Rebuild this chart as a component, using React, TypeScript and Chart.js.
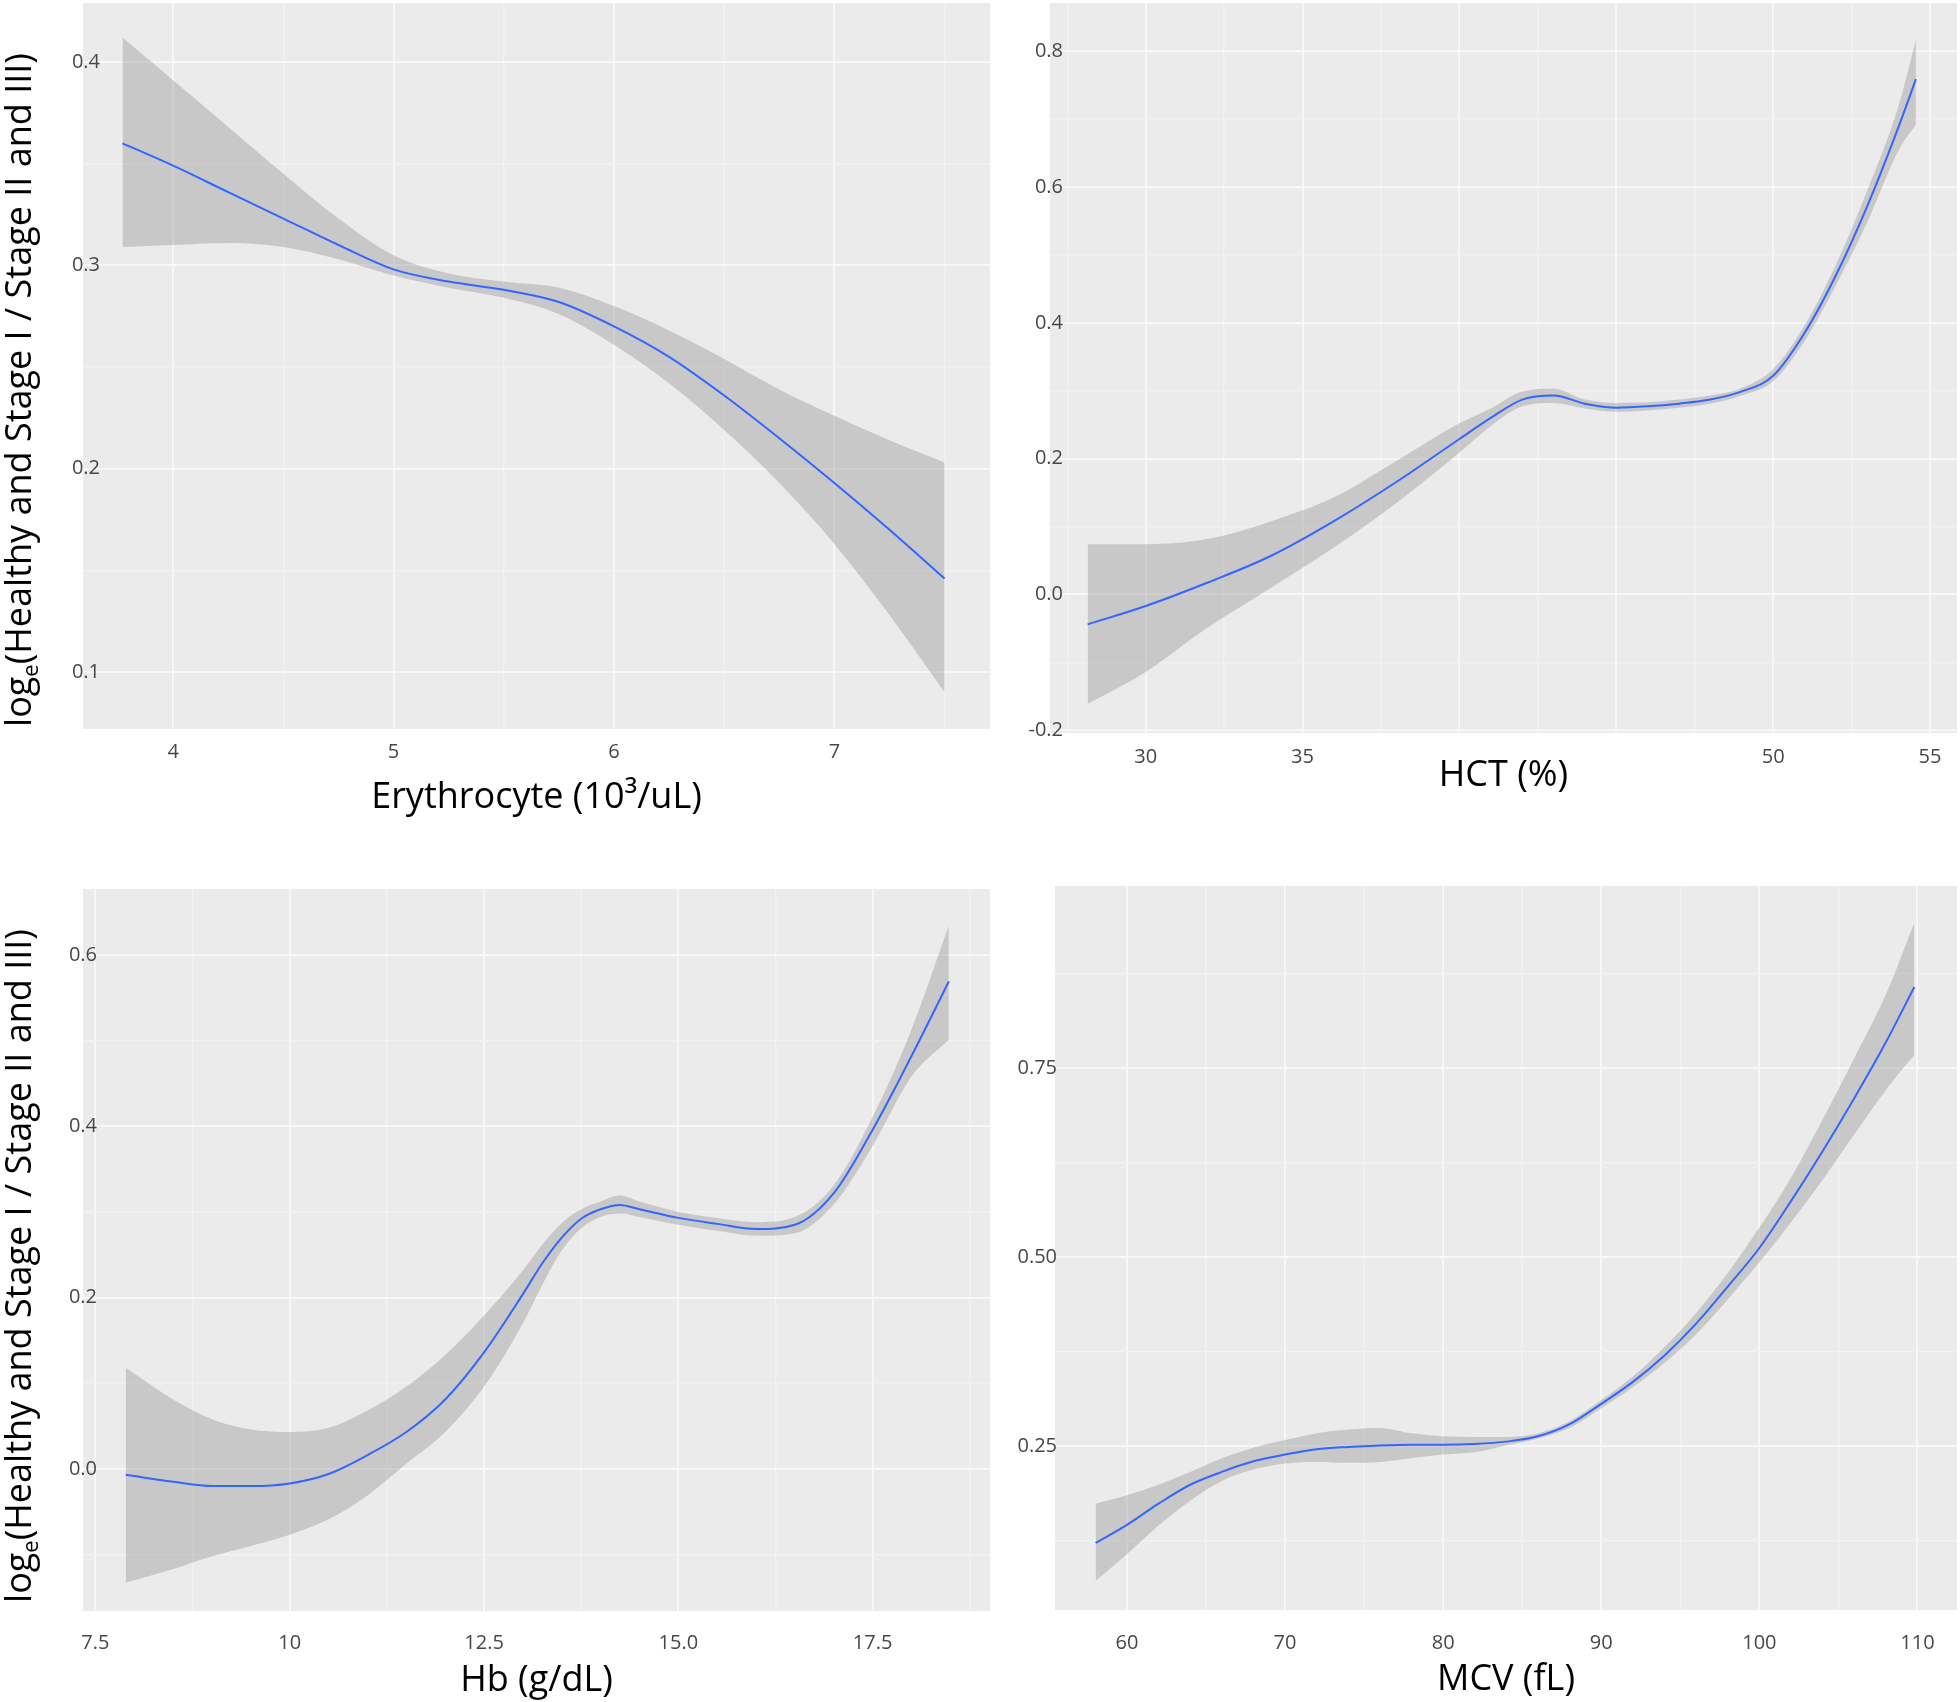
import React, { useEffect, useRef } from 'react';
import { Chart, registerables } from 'chart.js';

Chart.register(...registerables);

// ---------------- Data: Erythrocyte ----------------
const eryX = [3.77, 4.0, 4.25, 4.5, 4.75, 5.0, 5.25, 5.5, 5.75, 6.0, 6.25, 6.5, 6.75, 7.0, 7.25, 7.5];
const eryFit = [0.360, 0.349, 0.336, 0.323, 0.310, 0.298, 0.292, 0.288, 0.282, 0.270, 0.255, 0.236, 0.215, 0.193, 0.170, 0.146];
const eryUpper = [0.412, 0.391, 0.368, 0.345, 0.323, 0.305, 0.296, 0.292, 0.289, 0.280, 0.268, 0.254, 0.239, 0.226, 0.214, 0.203];
const eryLower = [0.309, 0.310, 0.311, 0.309, 0.303, 0.295, 0.289, 0.284, 0.276, 0.261, 0.242, 0.219, 0.193, 0.163, 0.128, 0.090];
const eryXMajor = [4, 5, 6, 7];
const eryXMinor = [4.5, 5.5, 6.5, 7.5];
const eryXLabels = ['4', '5', '6', '7'];
const eryYMajor = [0.1, 0.2, 0.3, 0.4];
const eryYMinor = [0.15, 0.25, 0.35];
const eryYLabels = ['0.1', '0.2', '0.3', '0.4'];

// ---------------- Data: HCT ----------------
const hctX = [28.15, 30, 32, 34, 36, 38, 40, 41, 42, 43, 44, 45, 46, 47, 48, 49, 50, 51, 52, 53, 54, 54.55];
const hctFit = [-0.044, -0.017, 0.018, 0.057, 0.108, 0.166, 0.229, 0.260, 0.287, 0.293, 0.281, 0.275, 0.277, 0.281, 0.287, 0.299, 0.322, 0.385, 0.470, 0.572, 0.689, 0.759];
const hctUpper = [0.074, 0.074, 0.082, 0.108, 0.143, 0.197, 0.252, 0.274, 0.299, 0.303, 0.287, 0.282, 0.283, 0.287, 0.293, 0.304, 0.332, 0.396, 0.486, 0.595, 0.720, 0.817];
const hctLower = [-0.161, -0.114, -0.048, 0.010, 0.069, 0.135, 0.209, 0.248, 0.277, 0.282, 0.274, 0.269, 0.271, 0.275, 0.281, 0.293, 0.314, 0.373, 0.455, 0.548, 0.654, 0.692];
const hctXMajor = [30, 35, 40, 45, 50, 55];
const hctXMinor = [27.5, 32.5, 37.5, 42.5, 47.5, 52.5];
const hctXLabels = ['30', '35', '', '', '50', '55'];
const hctYMajor = [-0.2, 0.0, 0.2, 0.4, 0.6, 0.8];
const hctYMinor = [-0.1, 0.1, 0.3, 0.5, 0.7];
const hctYLabels = ['-0.2', '0.0', '0.2', '0.4', '0.6', '0.8'];

// ---------------- Data: Hb ----------------
const hbX = [7.89, 8.5, 9, 9.5, 10, 10.5, 11, 11.5, 12, 12.5, 13, 13.25, 13.5, 13.75, 14, 14.25, 14.5, 15, 15.5, 16, 16.5, 17, 17.5, 18, 18.48];
const hbFit = [-0.007, -0.015, -0.020, -0.020, -0.017, -0.006, 0.016, 0.043, 0.081, 0.136, 0.204, 0.240, 0.270, 0.292, 0.303, 0.308, 0.303, 0.293, 0.286, 0.280, 0.285, 0.322, 0.396, 0.482, 0.569];
const hbUpper = [0.118, 0.081, 0.058, 0.046, 0.043, 0.048, 0.068, 0.096, 0.133, 0.179, 0.232, 0.262, 0.287, 0.303, 0.312, 0.319, 0.312, 0.300, 0.293, 0.288, 0.294, 0.331, 0.411, 0.513, 0.634];
const hbLower = [-0.133, -0.117, -0.102, -0.090, -0.077, -0.059, -0.031, 0.006, 0.043, 0.096, 0.170, 0.215, 0.255, 0.281, 0.294, 0.298, 0.294, 0.285, 0.278, 0.272, 0.275, 0.309, 0.377, 0.458, 0.501];
const hbXMajor = [7.5, 10, 12.5, 15, 17.5];
const hbXMinor = [8.75, 11.25, 13.75, 16.25, 18.75];
const hbXLabels = ['7.5', '10', '12.5', '15.0', '17.5'];
const hbYMajor = [0.0, 0.2, 0.4, 0.6];
const hbYMinor = [-0.1, 0.1, 0.3, 0.5];
const hbYLabels = ['0.0', '0.2', '0.4', '0.6'];

// ---------------- Data: MCV ----------------
const mcvX = [58.02, 60, 62, 64, 66, 68, 70, 72, 74, 76, 78, 80, 82, 84, 86, 88, 90, 92, 94, 96, 98, 100, 102, 104, 106, 108, 109.8];
const mcvFit = [0.122, 0.146, 0.174, 0.199, 0.216, 0.230, 0.239, 0.246, 0.249, 0.251, 0.252, 0.252, 0.253, 0.256, 0.263, 0.279, 0.306, 0.335, 0.370, 0.412, 0.461, 0.512, 0.574, 0.640, 0.710, 0.784, 0.857];
const mcvUpper = [0.174, 0.185, 0.199, 0.216, 0.234, 0.248, 0.258, 0.267, 0.272, 0.274, 0.267, 0.263, 0.262, 0.262, 0.267, 0.283, 0.311, 0.342, 0.381, 0.426, 0.479, 0.539, 0.605, 0.682, 0.763, 0.847, 0.942];
const mcvLower = [0.072, 0.107, 0.145, 0.178, 0.204, 0.219, 0.227, 0.229, 0.228, 0.229, 0.234, 0.239, 0.242, 0.251, 0.260, 0.274, 0.300, 0.328, 0.360, 0.398, 0.444, 0.493, 0.546, 0.602, 0.662, 0.721, 0.767];
const mcvXMajor = [60, 70, 80, 90, 100, 110];
const mcvXMinor = [65, 75, 85, 95, 105];
const mcvXLabels = ['60', '70', '80', '90', '100', '110'];
const mcvYMajor = [0.25, 0.5, 0.75];
const mcvYMinor = [0.125, 0.375, 0.625, 0.875];
const mcvYLabels = ['0.25', '0.50', '0.75'];

const Y_TITLE_MAIN = '(Healthy and Stage I / Stage II and III)';

// ---------------- Layout / style ----------------
const FONT_FAMILY = '"Open Sans", sans-serif';
const TICK_FONT = { family: FONT_FAMILY, size: 20 };
const TITLE_FONT = { family: FONT_FAMILY, size: 36 };
const TICK_COLOR = '#474747';
const PANEL_BG = '#EBEBEB';
const GRID_MAJOR = '#F7F7F7';
const GRID_MINOR = '#F2F2F2';
const LINE_COLOR = '#3366FF';
const RIBBON = 'rgba(153,153,153,0.42)';

type PanelCfg = {
  key: string;
  left: number; top: number; w: number; h: number;
  padTop: number; padRight: number; yAxisW: number; xAxisH: number;
  xTickPad: number; yLabelInset: number; xTitlePad: number;
  xMin: number; xMax: number; yMin: number; yMax: number;
  xs: number[]; fit: number[]; upper: number[]; lower: number[];
  xMajor: number[]; xMinor: number[]; xLabels: string[];
  yMajor: number[]; yMinor: number[]; yLabels: string[];
  xTitle: string;
  yTitle: null | { cx: number; cy: number };
};

const panels: PanelCfg[] = [
  {
    key: 'ery', left: 0, top: 0, w: 1000, h: 820,
    padTop: 3, padRight: 10, yAxisW: 83, xAxisH: 91,
    xTickPad: 11, yLabelInset: 17, xTitlePad: 1,
    xMin: 3.591, xMax: 7.706, yMin: 0.072, yMax: 0.429,
    xs: eryX, fit: eryFit, upper: eryUpper, lower: eryLower,
    xMajor: eryXMajor, xMinor: eryXMinor, xLabels: eryXLabels,
    yMajor: eryYMajor, yMinor: eryYMinor, yLabels: eryYLabels,
    xTitle: 'Erythrocyte (10³/uL)',
    yTitle: { cx: 21, cy: 390 },
  },
  {
    key: 'hct', left: 1000, top: 0, w: 960, h: 820,
    padTop: 3, padRight: 3, yAxisW: 50, xAxisH: 87,
    xTickPad: 12, yLabelInset: 13, xTitlePad: 23,
    xMin: 26.95, xMax: 55.86, yMin: -0.204, yMax: 0.871,
    xs: hctX, fit: hctFit, upper: hctUpper, lower: hctLower,
    xMajor: hctXMajor, xMinor: hctXMinor, xLabels: hctXLabels,
    yMajor: hctYMajor, yMinor: hctYMinor, yLabels: hctYLabels,
    xTitle: 'HCT (%)',
    yTitle: null,
  },
  {
    key: 'hb', left: 0, top: 860, w: 1000, h: 842,
    padTop: 29, padRight: 10, yAxisW: 83, xAxisH: 91,
    xTickPad: 20, yLabelInset: 14, xTitlePad: 0,
    xMin: 7.34, xMax: 19.01, yMin: -0.166, yMax: 0.677,
    xs: hbX, fit: hbFit, upper: hbUpper, lower: hbLower,
    xMajor: hbXMajor, xMinor: hbXMinor, xLabels: hbXLabels,
    yMajor: hbYMajor, yMinor: hbYMinor, yLabels: hbYLabels,
    xTitle: 'Hb (g/dL)',
    yTitle: { cx: 21, cy: 406 },
  },
  {
    key: 'mcv', left: 1000, top: 860, w: 960, h: 842,
    padTop: 26, padRight: 3, yAxisW: 55, xAxisH: 92,
    xTickPad: 21, yLabelInset: 2, xTitlePad: 1,
    xMin: 55.45, xMax: 112.5, yMin: 0.0334, yMax: 0.9906,
    xs: mcvX, fit: mcvFit, upper: mcvUpper, lower: mcvLower,
    xMajor: mcvXMajor, xMinor: mcvXMinor, xLabels: mcvXLabels,
    yMajor: mcvYMajor, yMinor: mcvYMinor, yLabels: mcvYLabels,
    xTitle: 'MCV (fL)',
    yTitle: null,
  },
];

const bgPlugin = {
  id: 'panelBg',
  beforeDraw(chart: any) {
    const { ctx, chartArea } = chart;
    ctx.save();
    ctx.fillStyle = PANEL_BG;
    ctx.fillRect(chartArea.left, chartArea.top, chartArea.right - chartArea.left, chartArea.bottom - chartArea.top);
    ctx.restore();
  },
};

// y tick labels drawn from the y scale (they overlap the panel edge as in the source figure)
function makeYLabelPlugin(cfg: PanelCfg) {
  return {
    id: 'yLabels',
    afterDraw(chart: any) {
      const ctx = chart.ctx as CanvasRenderingContext2D;
      const yScale = chart.scales.y;
      const x = chart.chartArea.left + cfg.yLabelInset;
      ctx.save();
      ctx.font = `${TICK_FONT.size}px ${FONT_FAMILY}`;
      ctx.fillStyle = TICK_COLOR;
      ctx.textAlign = 'right';
      ctx.textBaseline = 'middle';
      cfg.yMajor.forEach((v, i) => {
        ctx.fillText(cfg.yLabels[i], x, yScale.getPixelForValue(v));
      });
      ctx.restore();
    },
  };
}

function makeYTitlePlugin(pos: { cx: number; cy: number } | null) {
  return {
    id: 'yTitleSub',
    afterDraw(chart: any) {
      if (!pos) return;
      const ctx = chart.ctx as CanvasRenderingContext2D;
      const mainFont = `${TITLE_FONT.size}px ${FONT_FAMILY}`;
      const subFont = `${Math.round(TITLE_FONT.size * 0.62)}px ${FONT_FAMILY}`;
      ctx.save();
      ctx.translate(pos.cx, pos.cy);
      ctx.rotate(-Math.PI / 2);
      ctx.fillStyle = '#000';
      ctx.textBaseline = 'middle';
      ctx.textAlign = 'left';
      ctx.font = mainFont;
      const wLog = ctx.measureText('log').width;
      const wMain = ctx.measureText(Y_TITLE_MAIN).width;
      ctx.font = subFont;
      const wSub = ctx.measureText('e').width;
      const total = wLog + wSub + wMain;
      let x = -total / 2;
      ctx.font = mainFont;
      ctx.fillText('log', x, 0);
      x += wLog;
      ctx.font = subFont;
      ctx.fillText('e', x, 11);
      x += wSub;
      ctx.font = mainFont;
      ctx.fillText(Y_TITLE_MAIN, x, 0);
      ctx.restore();
    },
  };
}

function Panel({ cfg }: { cfg: PanelCfg }) {
  const ref = useRef<HTMLCanvasElement | null>(null);
  useEffect(() => {
    const canvas = ref.current;
    if (!canvas) return;
    const xLabelMap = new Map<number, string>(cfg.xMajor.map((v, i) => [v, cfg.xLabels[i]]));
    const xMajorSet = new Set(cfg.xMajor);
    const yMajorSet = new Set(cfg.yMajor);
    const xAll = [...cfg.xMajor, ...cfg.xMinor].sort((a, b) => a - b);
    const yAll = [...cfg.yMajor, ...cfg.yMinor].sort((a, b) => a - b);
    const pts = (ys: number[]) => cfg.xs.map((x, i) => ({ x, y: ys[i] }));

    const chart = new Chart(canvas, {
      type: 'line',
      data: {
        datasets: [
          {
            data: pts(cfg.fit),
            borderColor: LINE_COLOR,
            borderWidth: 2,
            pointRadius: 0,
            fill: false,
            cubicInterpolationMode: 'monotone',
            order: 0,
          },
          {
            data: pts(cfg.upper),
            borderColor: 'rgba(0,0,0,0)',
            borderWidth: 0,
            backgroundColor: RIBBON,
            pointRadius: 0,
            fill: '+1',
            cubicInterpolationMode: 'monotone',
            order: 1,
          },
          {
            data: pts(cfg.lower),
            borderColor: 'rgba(0,0,0,0)',
            borderWidth: 0,
            backgroundColor: RIBBON,
            pointRadius: 0,
            fill: false,
            cubicInterpolationMode: 'monotone',
            order: 2,
          },
        ],
      },
      options: {
        responsive: false,
        animation: false,
        events: [],
        layout: { padding: { top: cfg.padTop, right: cfg.padRight, left: 0, bottom: 0 } },
        plugins: {
          legend: { display: false },
          tooltip: { enabled: false },
          title: { display: false },
        },
        scales: {
          x: {
            type: 'linear',
            min: cfg.xMin,
            max: cfg.xMax,
            afterBuildTicks: (s: any) => {
              s.ticks = xAll.map((v) => ({ value: v }));
            },
            afterFit: (s: any) => {
              s.height = cfg.xAxisH;
            },
            ticks: {
              autoSkip: false,
              maxRotation: 0,
              padding: cfg.xTickPad,
              color: TICK_COLOR,
              font: TICK_FONT,
              callback: (v: any) => xLabelMap.get(v as number) ?? '',
            },
            grid: {
              drawTicks: false,
              color: (c: any) => (xMajorSet.has(c.tick?.value) ? GRID_MAJOR : GRID_MINOR),
              lineWidth: (c: any) => (xMajorSet.has(c.tick?.value) ? 2 : 1.5),
            },
            border: { display: false },
            title: {
              display: true,
              text: cfg.xTitle,
              color: '#000',
              font: TITLE_FONT,
              padding: { top: 0, bottom: cfg.xTitlePad },
            },
          },
          y: {
            type: 'linear',
            min: cfg.yMin,
            max: cfg.yMax,
            afterBuildTicks: (s: any) => {
              s.ticks = yAll.map((v) => ({ value: v }));
            },
            afterFit: (s: any) => {
              s.width = cfg.yAxisW;
            },
            ticks: { display: false },
            grid: {
              drawTicks: false,
              color: (c: any) => (yMajorSet.has(c.tick?.value) ? GRID_MAJOR : GRID_MINOR),
              lineWidth: (c: any) => (yMajorSet.has(c.tick?.value) ? 2 : 1.5),
            },
            border: { display: false },
            title: { display: false },
          },
        },
      } as any,
      plugins: [bgPlugin, makeYLabelPlugin(cfg), makeYTitlePlugin(cfg.yTitle)],
    });
    return () => chart.destroy();
  }, [cfg]);

  return (
    <canvas
      ref={ref}
      width={cfg.w}
      height={cfg.h}
      style={{ position: 'absolute', left: cfg.left, top: cfg.top, width: cfg.w, height: cfg.h }}
    />
  );
}

export default function App() {
  return (
    <div
      style={{
        position: 'absolute',
        left: 0,
        top: 0,
        width: 1960,
        height: 1702,
        background: '#FFFFFF',
        overflow: 'hidden',
      }}
    >
      {panels.map((p) => (
        <Panel key={p.key} cfg={p} />
      ))}
    </div>
  );
}
